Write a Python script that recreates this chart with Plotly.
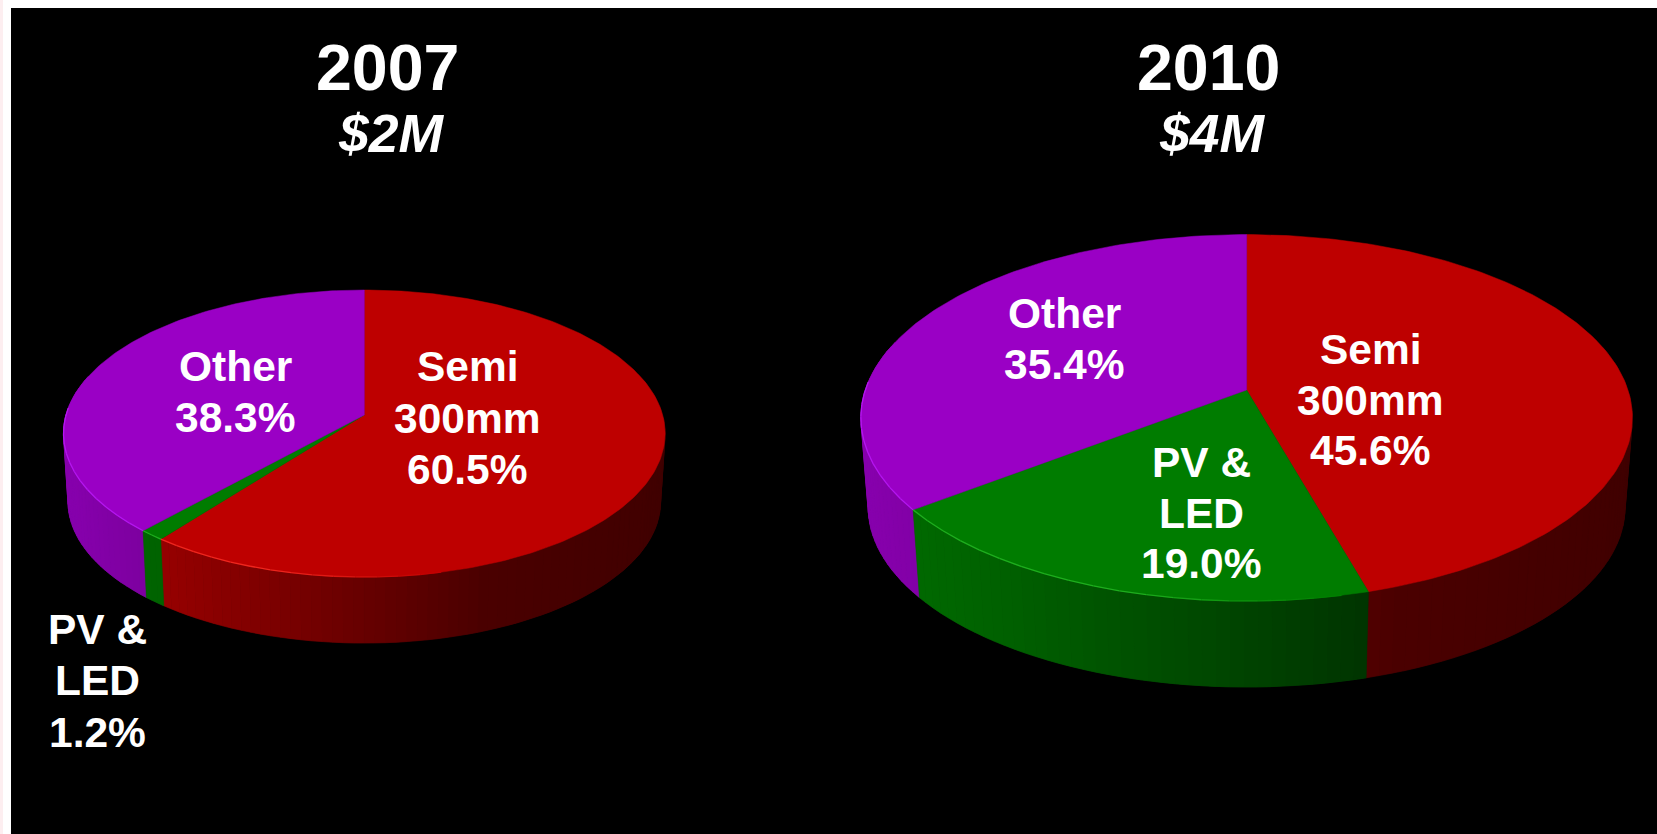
import numpy as np
import plotly.graph_objects as go

# ---- data ----
years = ["2007", "2010"]
totals = ["$2M", "$4M"]
categories = [["Semi", "300mm"], ["PV &", "LED"], ["Other"]]
values_2007 = [60.5, 1.2, 38.3]
values_2010 = [45.6, 19.0, 35.4]

# ---- style ----
TOP = [(190, 0, 0), (0, 124, 0), (154, 0, 197)]
GLOW = [(255, 50, 40), (40, 190, 40), (190, 30, 255)]
W, H = 1657, 834
FONT = "Liberation Sans, Arial, sans-serif"

# centre, half-widths, perspective, wall offset and scale
PIES = [
    dict(cx=364.3, cy=415.0, a=298.3, b=141.1, k=0.1289, s=0.985, d=68.5, gap=51.5, values=values_2007,
         title=(387.5, 68), sub=(391.5, 133), year=years[0], total=totals[0],
         labels=[(467.5, 418), (97, 680.5), (235, 392)]),
    dict(cx=1246.6, cy=390.0, a=381.3, b=179.0, k=0.1517, s=0.981, d=90.0, gap=50.5, values=values_2010,
         title=(1208.5, 68), sub=(1212, 133), year=years[1], total=totals[1],
         labels=[(1370.7, 400), (1201.6, 513), (1064, 339)]),
]


def project(p, theta):
    u, v = np.sin(theta), -np.cos(theta)
    q = 1 - p["k"] * v
    return p["a"] * u / q, p["b"] * v / q


def shade(t):
    return np.interp(t, [0, 0.15, 0.5, 0.7, 1], [0.88, 0.80, 0.54, 0.39, 0.34])


def rgb(c):
    return "rgb(%d,%d,%d)" % tuple(int(round(x)) for x in c)


fig = go.Figure()


def poly(xs, ys, color, lw=0.0):
    fig.add_trace(go.Scatter(x=xs, y=ys, mode="lines", fill="toself", fillcolor=color,
                             line=dict(color=color, width=lw), hoverinfo="skip", showlegend=False))


def wall(p, th, color):
    x, y = project(p, th)
    xs = np.concatenate([p["cx"] + x, (p["cx"] + x * p["s"])[::-1]])
    ys = np.concatenate([p["cy"] + y, (p["cy"] + y * p["s"] + p["d"])[::-1]])
    poly(np.append(xs, xs[0]), np.append(ys, ys[0]), color, lw=0.5)


annotations = []
for p in PIES:
    fractions = np.array(p["values"]) / sum(p["values"])
    edges = np.concatenate([[0], np.cumsum(fractions)]) * 2 * np.pi
    halfw = p["a"] / np.sqrt(1 - p["k"] ** 2)

    # side wall: a base under each slice, then narrow shaded bands over it
    for i in (2, 0, 1):
        th = np.linspace(edges[i], edges[i + 1], max(4, int(fractions[i] * 200)))
        th = th[-np.cos(th) > -0.3] if (-np.cos(th) > -0.3).sum() >= 2 else th
        x, _ = project(p, th)
        wall(p, th, rgb([c * shade((x.mean() / halfw + 1) / 2) for c in TOP[i]]))
    for i in (2, 0, 1):
        n = max(3, int(round(fractions[i] * 200)))
        th = np.linspace(edges[i], edges[i + 1], n + 1)
        for j in range(n):
            mid = (th[j] + th[j + 1]) / 2
            if -np.cos(mid) < -0.25:
                continue
            seg = np.linspace(th[j], th[j + 1], 3)
            x, _ = project(p, seg)
            f = shade((x.mean() / halfw + 1) / 2)
            wall(p, seg, rgb([c * f for c in TOP[i]]))

    # top face
    for i, col in enumerate(TOP):
        th = np.linspace(edges[i], edges[i + 1], max(4, int(fractions[i] * 360)))
        x, y = project(p, th)
        xs = np.concatenate([[p["cx"]], p["cx"] + x, [p["cx"]]])
        ys = np.concatenate([[p["cy"]], p["cy"] + y, [p["cy"]]])
        poly(xs, ys, rgb(col), lw=0.5)

    # bright lip on the front-left rim, fading towards the right
    for i, col in enumerate(TOP):
        n = max(2, int(round(fractions[i] * 100)))
        th = np.linspace(edges[i], edges[i + 1], n + 1)
        for j in range(n):
            mid = (th[j] + th[j + 1]) / 2
            x, y = project(p, np.array([th[j], th[j + 1]]))
            xm = (x[0] + x[1]) / 2 / halfw
            if -np.cos(mid) < -0.05 or xm > 0.25:
                continue
            w = float(np.clip((0.25 - xm) / 0.55, 0, 1)) * 0.75
            c = [col[m] + (GLOW[i][m] - col[m]) * w for m in range(3)]
            fig.add_trace(go.Scatter(x=p["cx"] + x, y=p["cy"] + y, mode="lines",
                                     line=dict(color=rgb(c), width=1.3),
                                     hoverinfo="skip", showlegend=False))

    # text
    annotations.append(dict(x=p["title"][0], y=p["title"][1], text="<b>%s</b>" % p["year"],
                            font=dict(size=64.5, color="white", family=FONT)))
    annotations.append(dict(x=p["sub"][0], y=p["sub"][1], text="<b><i>%s</i></b>" % p["total"],
                            font=dict(size=53.5, color="white", family=FONT)))
    for cat, val, pos in zip(categories, p["values"], p["labels"]):
        lines = cat + ["%.1f%%" % val]
        for n, line in enumerate(lines):
            annotations.append(dict(x=pos[0], y=pos[1] + (n - (len(lines) - 1) / 2) * p["gap"],
                                    text="<b>%s</b>" % line,
                                    font=dict(size=42.5, color="white", family=FONT)))

for a in annotations:
    a.update(xref="x", yref="y", showarrow=False, xanchor="center", yanchor="middle", align="center")

fig.update_layout(
    width=W, height=H, margin=dict(l=0, r=0, t=0, b=0),
    paper_bgcolor="white", plot_bgcolor="white", showlegend=False,
    xaxis=dict(range=[0, W], visible=False, fixedrange=True),
    yaxis=dict(range=[H, 0], visible=False, fixedrange=True),
    annotations=annotations,
    shapes=[
        dict(type="rect", xref="x", yref="y", x0=11, x1=W, y0=8, y1=H, fillcolor="black",
             line=dict(width=0), layer="below"),
        dict(type="rect", xref="x", yref="y", x0=0, x1=3, y0=0, y1=H, fillcolor="#FDEEF0",
             line=dict(width=0), layer="below"),
    ],
)
fig.write_html("out.html", config=dict(displayModeBar=False),
               post_script="document.body.style.margin='0';document.body.style.overflow='hidden';")
